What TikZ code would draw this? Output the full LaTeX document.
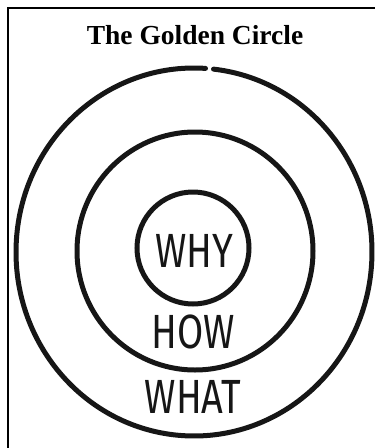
\documentclass[tikz,border=0pt]{standalone}
\usepackage{fontspec}
\setmainfont{Liberation Serif}
\newfontfamily\handfont{Fira Sans}
\usepackage{tikz}
\usetikzlibrary{positioning}
\definecolor{InkBlack}{RGB}{22,22,22}

\begin{document}
\begin{tikzpicture}[x=1pt,y=-1pt,
		ring/.style={line width=5pt,InkBlack,line cap=round},
		word/.style={font=\handfont\fontsize{48}{48}\selectfont,text=InkBlack,inner sep=0pt,xscale=0.79,transform shape}]
		\useasboundingbox (0,0) rectangle (375,448);
		\coordinate (outerC) at (194,252);
		\coordinate (midC) at (195,251);
		\coordinate (innerC) at (193,248);
		
		% 边框
		\draw[line width=2pt] (375,8) -- (8,8) -- (8,448);
		
		% 标题
		\node[font=\bfseries\fontsize{27.5}{27.5}\selectfont] (title) at (195,35) {The Golden Circle};
		
		% 外圈（顶部有小缺口）
		\draw[ring] (outerC) ++(86.3:178pt and 184pt)
			arc[start angle=86.3,end angle=443.7,x radius=178pt,y radius=184pt];
		
		% 中圈
		\draw[ring] (midC) ellipse[x radius=118pt,y radius=119pt];
		
		% 内圈
		\draw[ring] (innerC) circle[radius=56pt];
		
		% 文字
		\node[word] (why) at (194,251) {WHY};
		\node[word] (how) at (193,332) {HOW};
		\node[word] (what) at (193,397) {WHAT};
	\end{tikzpicture}
\end{document}
